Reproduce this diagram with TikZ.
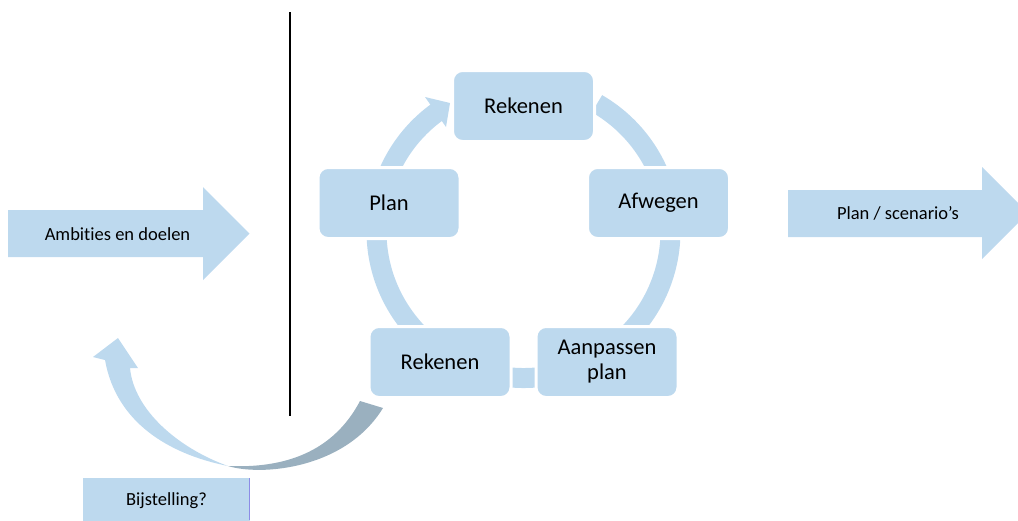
\documentclass[tikz,border=0pt]{standalone}
\usepackage{fontspec}
\setmainfont{Carlito}[Ligatures=NoCommon]
\definecolor{lb}{HTML}{BDD9EE}
\definecolor{db}{HTML}{9AB0BF}
\definecolor{edgeblue}{HTML}{8C8CE6}
\begin{document}
\begin{tikzpicture}[x=1pt,y=-1pt,
  cbox/.style={fill=lb, draw=white, line width=3pt, rounded corners=10pt,
    minimum width=142pt, minimum height=71pt, inner sep=0pt, align=center,
    font=\fontsize{22.5}{25}\selectfont},
  lbl/.style={font=\fontsize{18.5}{22}\selectfont, inner sep=0pt},
  bigarrow/.style={fill=lb},
  ring/.style={draw=lb, line width=20pt},
]
\clip (0,0) rectangle (1018,520);

% left input arrow
\fill[bigarrow] (8,210) -- (203,210) -- (203,187) -- (249.5,233.5) -- (203,280) -- (203,257) -- (8,257) -- cycle;
\node[lbl] (amb) at (117.5,234) {Ambities en doelen};

% right output arrow
\fill[bigarrow] (788,190) -- (982,190) -- (982,167) -- (1028,213) -- (982,259) -- (982,237) -- (788,237) -- cycle;
\node[lbl] (out) at (898,213) {Plan / scenario’s};

% separator line
\coordinate (vt) at (290,12);
\coordinate (vb) at (290,416);
\draw[line width=1.5pt] (vt) -- (vb);

% cycle ring
\coordinate (c) at (523.5,231);
\draw[ring] (c) ++(-126:147) arc[start angle=-126, end angle=-420, radius=147];
\fill[lb] (425,97) -- (450,103) -- (446,127) -- cycle;

% cycle boxes
\node[cbox] (r1) at (523.5,106) {Rekenen};
\node[cbox] (af) at (658.5,203) {Afwegen};
\node[cbox] (pl) at (389,203) {Plan};
\node[cbox] (r2) at (440,362) {Rekenen};
\node[cbox] (ap) at (607,362) {Aanpassen\\plan};

% curved feedback arrow
\fill[lb] (228,466) .. controls (168,454) and (116,422) .. (105,360) -- (93,357) -- (118,338) -- (138,368) -- (130,368) .. controls (134,410) and (178,448) .. (228,466) -- cycle;
\fill[db] (228,466) .. controls (260,476) and (345,470) .. (383,408) -- (360,401) .. controls (330,458) and (275,468) .. (228,466) -- cycle;

% Bijstelling box
\fill[lb] (83,478) rectangle (250,525);
\draw[edgeblue, line width=0.8pt] (249.6,478) -- (249.6,520);
\node[lbl] (bij) at (166.5,501) {Bijstelling?};
\end{tikzpicture}
\end{document}
